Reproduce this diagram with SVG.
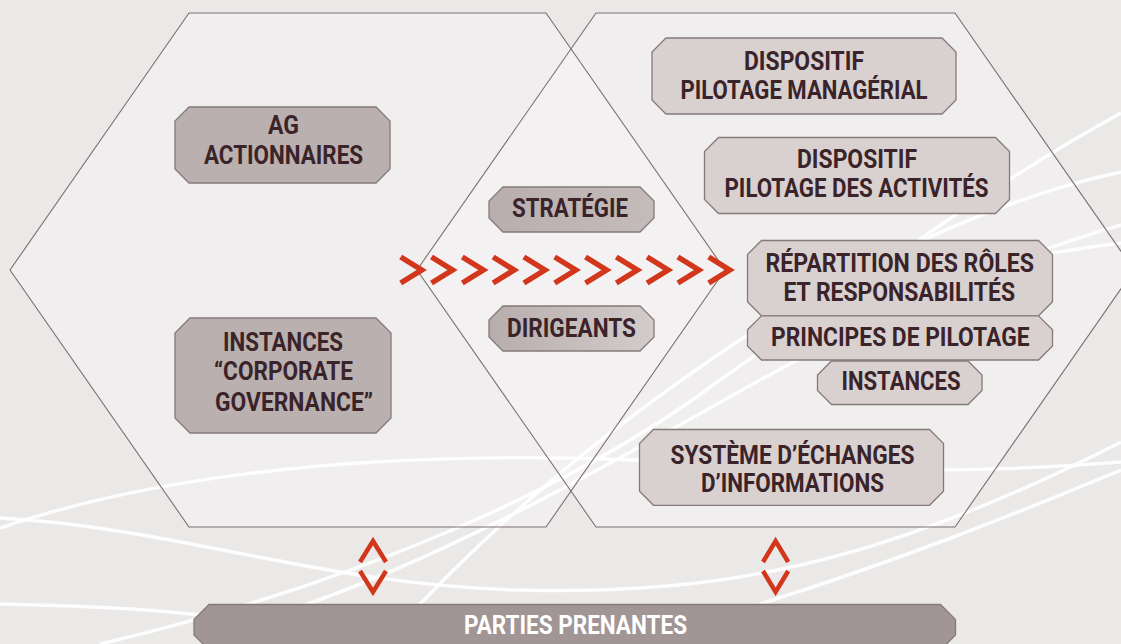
<svg xmlns="http://www.w3.org/2000/svg" width="1121" height="644" viewBox="0 0 1121 644">
<defs>
<linearGradient id="gMid" x1="0" y1="0" x2="1" y2="0">
<stop offset="0" stop-color="#b7adac"/>
<stop offset="1" stop-color="#d3cccc"/>
</linearGradient>
<linearGradient id="gMid2" x1="0" y1="0" x2="1" y2="0">
<stop offset="0" stop-color="#b8aead"/>
<stop offset="1" stop-color="#c4bcbb"/>
</linearGradient>
</defs>
<style>
.hex{fill:#f0eeee;stroke:none}
.hexl{fill:none;stroke:#7c7070;stroke-width:1.1}
.bg{fill:none;stroke:#ffffff;stroke-width:3.5;stroke-opacity:0.9}
.bx{stroke:#857a7a;stroke-width:1.3}
.dk{fill:#bab0af}
.lt{fill:#d8d1d0}
.pp{fill:#a19595}
.t{font-family:Roboto,"Liberation Sans",sans-serif;font-weight:700;font-size:25.5px;fill:#3a2329}
.tw{fill:#ffffff}
.chev{fill:none;stroke:#d2361b;stroke-width:5.5;stroke-linejoin:miter}
.dbl{fill:none;stroke:#d2361b;stroke-width:4.5;stroke-linejoin:miter}
</style>
<rect x="0" y="0" width="1121" height="644" fill="#ebe9e8"/>
<g id="hexagons">
<polygon class="hex" points="10,270 189,13 546,13 725,270 546,527 189,527"/>
<polygon class="hex" points="417,270 596,13 955,13 1134,270 955,527 596,527"/>
<polygon fill="#f3f1f1" points="571,49 725,270 571,491 417,270"/>
</g>
<g id="background-curves">
<path class="bg" d="M0,518 C180,528 320,585 520,590 C720,595 880,565 1121,442"/>
<path class="bg" d="M0,528 C140,480 330,455 560,458 C780,462 900,480 1121,462"/>
<path class="bg" d="M0,604 C100,606 170,610 240,620"/>
<path class="bg" d="M100,644 C330,590 560,500 720,380 C850,290 980,190 1121,113"/>
<path class="bg" d="M290,610 C440,560 600,470 760,380 C880,315 1000,260 1121,225"/>
<path class="bg" d="M420,604 C520,500 620,420 740,340 C860,265 990,200 1121,172"/>
<path class="bg" d="M760,604 C900,560 1000,520 1121,470"/>
<path class="bg" d="M1000,262 C1040,255 1080,248 1121,243"/>
</g>
<g id="hexagon-outlines">
<polygon class="hexl" points="10,270 189,13 546,13 725,270 546,527 189,527"/>
<polygon class="hexl" points="417,270 596,13 955,13 1134,270 955,527 596,527"/>
</g>
<g id="connectors">
<path class="chev" d="M400.7,257 L421.7,270 L400.7,283"/>
<path class="chev" d="M431.5,257 L452.5,270 L431.5,283"/>
<path class="chev" d="M462.3,257 L483.3,270 L462.3,283"/>
<path class="chev" d="M493.1,257 L514.1,270 L493.1,283"/>
<path class="chev" d="M523.9,257 L544.9,270 L523.9,283"/>
<path class="chev" d="M554.7,257 L575.7,270 L554.7,283"/>
<path class="chev" d="M585.5,257 L606.5,270 L585.5,283"/>
<path class="chev" d="M616.3,257 L637.3,270 L616.3,283"/>
<path class="chev" d="M647.1,257 L668.1,270 L647.1,283"/>
<path class="chev" d="M677.9,257 L698.9,270 L677.9,283"/>
<path class="chev" d="M708.7,257 L729.7,270 L708.7,283"/>
<path class="dbl" d="M360,562 L373,541 L386,562"/>
<path class="dbl" d="M360,571 L373,592 L386,571"/>
<path class="dbl" d="M763,562 L775.6,541 L788.2,562"/>
<path class="dbl" d="M763,571 L775.6,592 L788.2,571"/>
</g>
<g id="node-ag">
<path class="bx dk" d="M189,107 H376 L390,121 V169 L376,183 H189 L175,169 V121 Z"/>
<text class="t" x="268" y="134" textLength="31" lengthAdjust="spacingAndGlyphs">AG</text>
<text class="t" x="204" y="164" textLength="159" lengthAdjust="spacingAndGlyphs">ACTIONNAIRES</text>
</g>
<g id="node-instances-cg">
<path class="bx dk" d="M190,318 H376 L391,333 V418 L376,433 H190 L175,418 V333 Z"/>
<text class="t" x="223" y="351" textLength="120" lengthAdjust="spacingAndGlyphs">INSTANCES</text>
<text class="t" x="214" y="380" textLength="139" lengthAdjust="spacingAndGlyphs">“CORPORATE</text>
<text class="t" x="215" y="410.5" textLength="158" lengthAdjust="spacingAndGlyphs">GOVERNANCE”</text>
</g>
<g id="node-strategie">
<path class="bx" fill="url(#gMid2)" d="M503,187 H640 L654,201 V218 L640,232 H503 L489,218 V201 Z"/>
<text class="t" x="512" y="217" textLength="116" lengthAdjust="spacingAndGlyphs">STRATÉGIE</text>
</g>
<g id="node-dirigeants">
<path class="bx" fill="url(#gMid)" d="M503,306 H640 L654,320 V337 L640,351 H503 L489,337 V320 Z"/>
<text class="t" x="507" y="337" textLength="129" lengthAdjust="spacingAndGlyphs">DIRIGEANTS</text>
</g>
<g id="node-pilotage-managerial">
<path class="bx lt" d="M666,38 H942 L956,52 V100 L942,114 H666 L652,100 V52 Z"/>
<text class="t" x="744" y="70" textLength="120" lengthAdjust="spacingAndGlyphs">DISPOSITIF</text>
<text class="t" x="680.5" y="99" textLength="247" lengthAdjust="spacingAndGlyphs">PILOTAGE MANAGÉRIAL</text>
</g>
<g id="node-pilotage-activites">
<path class="bx lt" d="M718.5,137.5 H995.5 L1009.5,151.5 V199.5 L995.5,213.5 H718.5 L704.5,199.5 V151.5 Z"/>
<text class="t" x="797" y="168" textLength="120" lengthAdjust="spacingAndGlyphs">DISPOSITIF</text>
<text class="t" x="724.5" y="197" textLength="264" lengthAdjust="spacingAndGlyphs">PILOTAGE DES ACTIVITÉS</text>
</g>
<g id="node-repartition">
<path class="bx lt" d="M761.5,240.5 H1038.5 L1052.5,254.5 V301.8 L1038.5,315.8 H761.5 L747.5,301.8 V254.5 Z"/>
<text class="t" x="765.5" y="272" textLength="268.5" lengthAdjust="spacingAndGlyphs">RÉPARTITION DES RÔLES</text>
<text class="t" x="783.5" y="300.5" textLength="231.5" lengthAdjust="spacingAndGlyphs">ET RESPONSABILITÉS</text>
</g>
<g id="node-principes">
<path class="bx lt" d="M761.5,315.8 H1038.5 L1052.5,329.8 V346 L1038.5,360 H761.5 L747.5,346 V329.8 Z"/>
<text class="t" x="771" y="345.7" textLength="258.5" lengthAdjust="spacingAndGlyphs">PRINCIPES DE PILOTAGE</text>
</g>
<g id="node-instances">
<path class="bx lt" d="M831.5,361 H968 L982,375 V390.5 L968,404.5 H831.5 L817.5,390.5 V375 Z"/>
<text class="t" x="841.5" y="389.7" textLength="119" lengthAdjust="spacingAndGlyphs">INSTANCES</text>
</g>
<g id="node-systeme">
<path class="bx lt" d="M653.5,429.5 H929.5 L943.5,443.5 V491.3 L929.5,505.3 H653.5 L639.5,491.3 V443.5 Z"/>
<text class="t" x="670.5" y="463.6" textLength="244" lengthAdjust="spacingAndGlyphs">SYSTÈME D’ÉCHANGES</text>
<text class="t" x="701" y="492" textLength="183" lengthAdjust="spacingAndGlyphs">D’INFORMATIONS</text>
</g>
<g id="node-parties-prenantes">
<path class="bx pp" d="M209,604.5 H940.5 L955.5,619.5 V635 L940.5,650 H209 L194,635 V619.5 Z"/>
<text class="t tw" x="464" y="634" textLength="223" lengthAdjust="spacingAndGlyphs">PARTIES PRENANTES</text>
</g>
</svg>
